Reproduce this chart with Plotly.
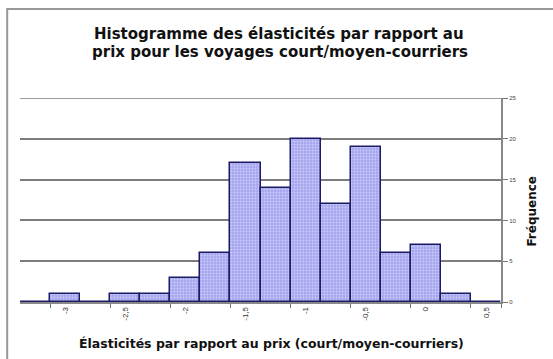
import plotly.graph_objects as go

categories = ["-3,25", "-3", "-2,75", "-2,5", "-2,25", "-2", "-1,75", "-1,5",
              "-1,25", "-1", "-0,75", "-0,5", "-0,25", "0", "0,25", "0,5"]
frequencies = [0, 1, 0, 1, 1, 3, 6, 17, 14, 20, 12, 19, 6, 7, 1, 0]
tick_labels = ["-3", "-2,5", "-2", "-1,5", "-1", "-0,5", "0", "0,5"]
y_max = 25

W, H = 553, 359
L, R, T, B = 20, 45, 98, 57
pw, ph = W - L - R, H - T - B

FONT = "DejaVu Sans, Liberation Sans, Arial, sans-serif"


def px(x):
    return (x - L) / pw


def py(y):
    return (H - B - y) / ph


fig = go.Figure()
fig.add_trace(go.Bar(
    x=categories, y=frequencies,
    marker=dict(
        color="#a9a9f2",
        line=dict(color="#1c1c66", width=1.5),
        pattern=dict(shape=".", fgcolor="#f4f4ff", bgcolor="#a6a6f0", size=3, solidity=0.3),
    ),
    showlegend=False,
    hoverinfo="skip",
))

fig.update_layout(
    width=W, height=H,
    margin=dict(l=L, r=R, t=T, b=B),
    paper_bgcolor="white", plot_bgcolor="white",
    bargap=0,
    font=dict(family=FONT, color="#111"),
    xaxis=dict(
        type="category",
        tickmode="array", tickvals=tick_labels, ticktext=tick_labels,
        tickangle=-90, tickfont=dict(size=8, color="#333", family="Liberation Sans, Arial"),
        ticks="outside", ticklen=4, tickcolor="#777", tickson="boundaries",
        showline=True, linecolor="#888", linewidth=1.5,
        showgrid=False,
        title=dict(text=""),
    ),
    yaxis=dict(
        side="right", range=[0, y_max], dtick=5,
        tickfont=dict(size=6, color="#444", family="Liberation Sans, Arial"),
        ticks="outside", ticklen=5, tickcolor="#777",
        showline=True, linecolor="#888", linewidth=2,
        showgrid=True, gridcolor="#7d7d7d", gridwidth=1.5,
        zeroline=False,
        title=dict(text=""),
    ),
    shapes=[
        dict(type="rect", xref="paper", yref="paper",
             x0=px(7), x1=px(W + 10), y0=py(H + 10), y1=py(9),
             line=dict(color="#999", width=2), fillcolor="rgba(0,0,0,0)", layer="above"),
        dict(type="line", xref="paper", yref="y",
             x0=0, x1=1, y0=y_max, y1=y_max,
             line=dict(color="#7d7d7d", width=1.5), layer="below"),
    ],
    annotations=[
        dict(text="<b>Histogramme des élasticités par rapport au</b>",
             xref="paper", yref="paper", x=px(283), y=py(34), xanchor="center", yanchor="middle",
             showarrow=False, font=dict(size=15, color="#111")),
        dict(text="<b>prix pour les voyages court/moyen-courriers</b>",
             xref="paper", yref="paper", x=px(284), y=py(52), xanchor="center", yanchor="middle",
             showarrow=False, font=dict(size=15, color="#111")),
        dict(text="<b>Élasticités par rapport au prix (court/moyen-courriers)</b>",
             xref="paper", yref="paper", x=px(275), y=py(343), xanchor="center", yanchor="middle",
             showarrow=False, font=dict(size=12.5, color="#111")),
        dict(text="<b>Fréquence</b>", textangle=-90,
             xref="paper", yref="paper", x=px(539), y=py(211), xanchor="center", yanchor="middle",
             showarrow=False, font=dict(size=12, color="#111")),
    ],
)

fig.write_html("out.html", config={"displayModeBar": False},
               post_script="document.body.style.margin='0';")
